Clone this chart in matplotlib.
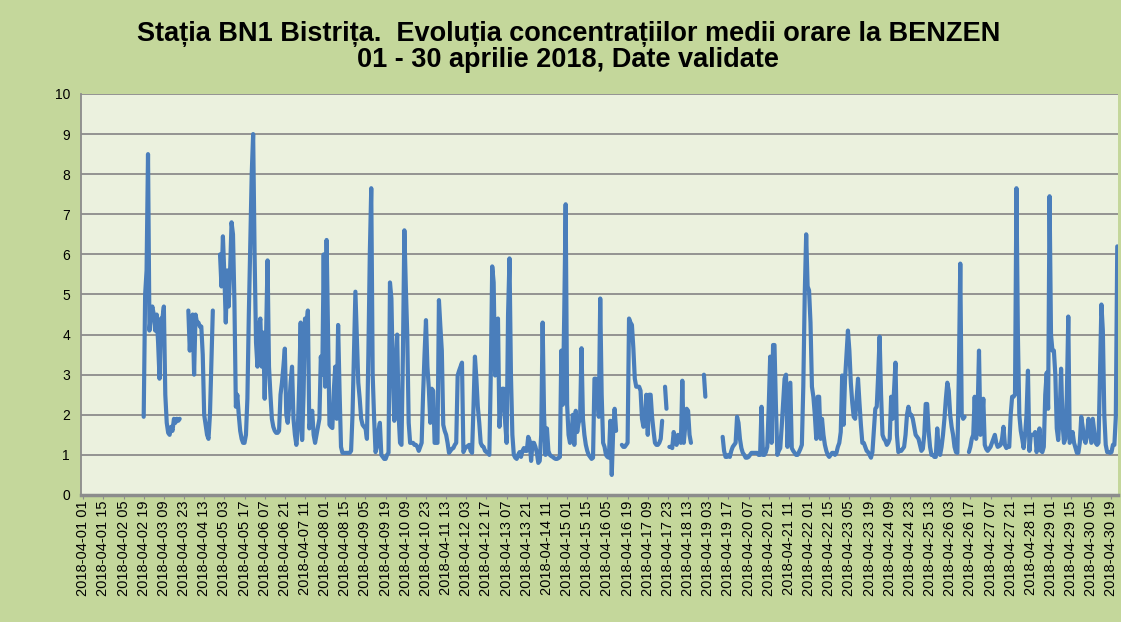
import numpy as np
import pandas as pd
import matplotlib
matplotlib.use("Agg")
import matplotlib.pyplot as plt

nan = np.nan

# hourly benzene values (ug/m3), one list per day, hours 00..23
apr01 = [nan] * 24
apr02 = [nan] * 19 + [1.95, 5.0, 5.6, 8.5, 4.1]
apr03 = [4.5, 4.7, 4.5, 4.1, 4.5, 3.8, 2.9, 4.4, 4.4, 4.7, 2.5, 1.8, 1.55, 1.5, 1.7, 1.6, 1.9, 1.8, 1.9, 1.85, 1.9, nan, nan, nan]
apr04 = [nan, nan, 4.6, 3.6, 4.3, 4.5, 3.0, 4.5, 4.3, 4.3, 4.2, 4.2, 3.5, 2.0, 1.75, 1.5, 1.4, 2.0, 3.3, 4.6, nan, nan, nan, nan]
apr05 = [6.0, 5.2, 6.45, 5.5, 4.3, 5.6, 4.7, 5.6, 6.8, 6.5, 4.8, 2.2, 2.5, 2.0, 1.6, 1.4, 1.3, 1.3, 1.5, 2.4, 4.5, 6.3, 8.0, 9.0]
apr06 = [6.0, 3.8, 3.2, 4.2, 4.4, 3.2, 4.05, 2.4, 4.0, 5.85, 3.2, 2.5, 1.9, 1.7, 1.6, 1.55, 1.55, 1.6, 2.5, 2.8, 3.2, 3.65, 2.0, 1.8]
apr07 = [2.2, 2.8, 3.2, 1.9, 1.5, 1.25, 1.6, 2.8, 4.3, 1.37, 2.5, 4.4, 4.2, 4.6, 1.66, 1.9, 2.1, 1.5, 1.3, 1.5, 1.7, 1.9, 3.45, 3.0]
apr08 = [6.0, 2.7, 6.36, 4.0, 1.75, 1.7, 1.67, 2.6, 3.2, 1.9, 4.24, 2.6, 1.2, 1.05, 1.05, 1.05, 1.05, 1.05, 1.05, 1.1, 2.0, 3.5, 5.07, 3.9]
apr09 = [2.8, 2.4, 1.9, 1.75, 1.7, 1.67, 1.4, 3.5, 6.0, 7.65, 3.0, 1.9, 1.07, 1.2, 1.6, 1.8, 1.0, 0.95, 0.9, 0.9, 1.0, 1.05, 5.3, 4.9]
apr10 = [3.0, 1.85, 3.2, 4.0, 2.0, 1.3, 1.25, 3.5, 6.6, 5.2, 4.0, 1.8, 1.3, 1.3, 1.3, 1.25, 1.25, 1.2, 1.1, 1.2, 1.3, 2.5, 3.5, 4.36]
apr11 = [3.2, 2.65, 1.8, 2.65, 2.6, 1.3, 1.3, 1.3, 4.86, 4.2, 3.6, 1.75, 1.6, 1.5, 1.3, 1.05, 1.1, 1.15, 1.17, 1.25, 1.3, 2.98, 3.1, 3.2]
apr12 = [3.3, 1.07, 1.15, 1.2, 1.22, 1.25, 1.1, 1.05, 2.2, 3.45, 2.9, 2.2, 1.8, 1.3, 1.22, 1.2, 1.1, 1.07, 1.05, 1.0, 3.0, 5.7, 5.3, 2.98]
apr13 = [4.0, 4.4, 1.7, 2.2, 2.65, 2.65, 1.8, 1.3, 4.5, 5.9, 3.0, 1.5, 1.0, 0.93, 0.9, 1.0, 1.07, 0.95, 1.1, 1.17, 1.1, 1.1, 1.45, 1.35]
apr14 = [0.85, 1.3, 1.3, 1.2, 1.05, 0.8, 0.85, 1.5, 4.3, 2.0, 1.0, 1.66, 1.1, 1.0, 0.97, 0.95, 0.92, 0.9, 0.9, 0.92, 0.95, 3.6, 2.25, 4.5]
apr15 = [7.25, 2.25, 1.5, 1.3, 1.5, 2.0, 1.25, 2.1, 1.57, 1.8, 1.9, 3.66, 1.9, 1.5, 1.25, 1.1, 1.0, 0.95, 0.9, 0.93, 2.9, 2.9, 2.5, 1.95]
apr16 = [4.9, 2.5, 1.3, 1.2, 1.0, 0.95, 0.93, 1.85, 0.5, 1.6, 2.15, 1.6, nan, nan, nan, 1.25, 1.2, 1.2, 1.25, 1.3, 4.4, 4.3, 4.24, 3.66]
apr17 = [2.9, 2.7, 2.7, 2.7, 2.6, 1.9, 1.7, 1.8, 2.5, 1.5, 2.5, 2.5, 1.95, 1.6, 1.3, 1.25, 1.25, 1.3, 1.4, 1.85, nan, 2.7, 2.15, nan]
apr18 = [1.2, 1.2, 1.17, 1.57, 1.4, 1.25, 1.5, 1.4, 1.3, 2.85, 1.3, 1.7, 2.15, 2.1, 1.5, 1.3] + [nan] * 8
apr19 = [3.0, 2.45] + [nan] * 11 + [1.45, 1.1, 0.95, 0.95, 1.0, 0.95, 1.1, 1.2, 1.25, 1.3, 1.95]
apr20 = [1.8, 1.4, 1.17, 1.05, 1.0, 0.93, 0.93, 0.95, 1.0, 1.05, 1.05, 1.05, 1.05, 1.05, 1.0, 1.0, 2.2, 1.0, 1.0, 1.07, 1.2, 2.2, 3.45, 1.3]
apr21 = [3.74, 3.74, 2.2, 1.0, 1.1, 1.17, 1.7, 2.3, 2.9, 3.0, 1.2, 2.0, 2.8, 1.17, 1.1, 1.05, 1.0, 1.0, 1.07, 1.15, 1.25, 2.7, 5.0, 6.5]
apr22 = [5.2, 5.1, 4.3, 2.7, 2.45, 2.0, 1.4, 2.45, 2.45, 1.4, 1.9, 1.5, 1.25, 1.1, 1.0, 0.95, 1.0, 1.05, 1.05, 1.0, 1.05, 1.2, 1.3, 1.57]
apr23 = [2.98, 1.75, 2.9, 3.5, 4.1, 3.6, 2.8, 2.3, 1.95, 1.9, 2.4, 2.9, 2.3, 1.75, 1.3, 1.3, 1.2, 1.1, 1.07, 1.0, 0.93, 1.07, 1.6, 2.15]
apr24 = [2.2, 3.0, 3.95, 2.5, 1.5, 1.4, 1.35, 1.25, 1.3, 1.4, 2.45, 1.9, 2.6, 3.3, 1.5, 1.07, 1.1, 1.1, 1.15, 1.2, 1.5, 2.0, 2.2, 2.0]
apr25 = [2.0, 1.9, 1.7, 1.5, 1.45, 1.4, 1.25, 1.1, 1.15, 1.5, 2.27, 2.27, 1.6, 1.2, 1.0, 1.0, 0.95, 0.95, 1.66, 1.2, 1.0, 1.2, 1.5, 1.9]
apr26 = [2.4, 2.8, 2.6, 2.0, 1.7, 1.5, 1.2, 1.07, 1.05, 3.0, 5.77, 2.0, 1.9, 1.95, nan, nan, 1.07, 1.2, 1.4, 1.5, 2.45, 1.4, 2.0, 3.6]
apr27 = [1.5, 1.8, 2.4, 1.25, 1.15, 1.1, 1.15, 1.2, 1.3, 1.4, 1.5, 1.3, 1.2, 1.22, 1.25, 1.4, 1.7, 1.25, 1.17, 1.2, 1.2, 2.0, 2.45, 2.45]
apr28 = [2.5, 7.65, 4.0, 2.0, 1.6, 1.4, 1.17, 1.5, 2.0, 3.1, 1.1, 1.5, 1.5, 1.5, 1.57, 1.07, 1.3, 1.66, 1.1, 1.07, 1.2, 2.5, 3.05, 2.15]
apr29 = [7.45, 4.0, 3.6, 3.6, 3.0, 1.66, 1.37, 2.0, 3.15, 1.8, 1.3, 1.4, 2.5, 4.45, 1.3, 1.4, 1.57, 1.3, 1.17, 1.05, 1.05, 1.3, 1.95, 1.7]
apr30 = [1.4, 1.3, 1.5, 1.9, 1.6, 1.3, 1.9, 1.6, 1.3, 1.25, 1.3, 3.0, 4.75, 4.1, 2.0, 1.25, 1.07, 1.07, 1.05, 1.07, 1.25, 1.25, 1.95, 6.2]

days = [apr01, apr02, apr03, apr04, apr05, apr06, apr07, apr08, apr09, apr10,
        apr11, apr12, apr13, apr14, apr15, apr16, apr17, apr18, apr19, apr20,
        apr21, apr22, apr23, apr24, apr25, apr26, apr27, apr28, apr29, apr30]
benzen = np.array(sum(days, []), dtype=float)

hours = pd.date_range("2018-04-01 00:00", periods=len(benzen), freq="h")
tick_pos = np.arange(1, len(benzen), 14)
tick_labels = [hours[i].strftime("%Y-%m-%d %H") for i in tick_pos]

title = ("Stația BN1 Bistrița.  Evoluția concentrațiilor medii orare la BENZEN\n"
         "01 - 30 aprilie 2018, Date validate")

plt.rcParams["font.family"] = ["Liberation Sans", "DejaVu Sans"]

fig = plt.figure(figsize=(11.21, 6.22), dpi=100)
fig.patch.set_facecolor("#c4d79b")
ax = fig.add_axes([0.0723, 0.2042, 0.9250, 0.6447])
ax.set_facecolor("#ebf1de")

x = np.arange(len(benzen))
ax.plot(x, benzen, color="#4a7ebb", lw=3.0, solid_joinstyle="round", solid_capstyle="round")

ax.set_xlim(-0.5, len(benzen) - 0.5)
ax.set_ylim(0, 10)
ax.set_yticks(range(0, 11))
ax.yaxis.grid(True, color="#8c8c8c", lw=1.3)
ax.set_axisbelow(True)

ax.set_xticks(tick_pos)
ax.set_xticklabels(tick_labels, rotation=90, fontsize=10.5)
ax.tick_params(axis="x", length=3, color="#8c8c8c", pad=1)
ax.tick_params(axis="y", length=0, labelsize=10, pad=8)

for s in ["top", "right"]:
    ax.spines[s].set_visible(False)
ax.spines["left"].set_color("#8c8c8c")
ax.spines["left"].set_linewidth(1.3)
ax.spines["bottom"].set_color("#8c8c8c")
ax.spines["bottom"].set_linewidth(2.5)

fig.text(0.507, 0.925, title, ha="center", va="center", fontsize=19.5,
         fontweight="bold", linespacing=1.0)

fig.savefig("out.png", dpi=100, facecolor=fig.get_facecolor())
